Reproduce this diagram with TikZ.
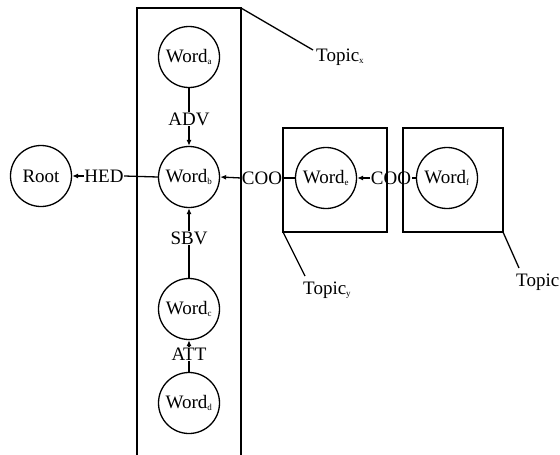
\documentclass[tikz,border=0pt]{standalone}
\usepackage{fontspec}
\setmainfont{Liberation Serif}
\usetikzlibrary{arrows.meta}
\tikzset{
  word/.style={draw, circle, line width=1.3pt, minimum size=61pt, inner sep=0pt, font=\fontsize{19}{22}\selectfont},
  rel/.style={inner sep=0.5pt, font=\fontsize{19}{22}\selectfont},
  topiclabel/.style={anchor=west, inner sep=0pt, font=\fontsize{19}{22}\selectfont},
  conn/.style={line width=1.3pt},
  arr/.style={line width=1.3pt, -{Latex[length=6pt,width=5pt]}},
  frame/.style={line width=1.3pt}
}
\newcommand{\sbs}[1]{\textsubscript{\fontsize{9}{10}\selectfont #1}}
\begin{document}
\begin{tikzpicture}[x=1pt,y=-1pt]
\useasboundingbox (0,0) rectangle (560,455);
\clip (0,0) rectangle (560,455);

% topic frames
\draw[frame] (137,460) -- (137,8) -- (241,8) -- (241,460);
\draw[frame] (283,128) rectangle (387,232);
\draw[frame] (403,128) rectangle (503,232);

% word nodes
\node[word] (root) at (41,176) {Root};
\node[word] (wa) at (189,57) {Word\sbs{a}};
\node[word] (wb) at (189,177) {Word\sbs{b}};
\node[word] (wc) at (189,309) {Word\sbs{c}};
\node[word] (wd) at (189,403) {Word\sbs{d}};
\node[word] (we) at (326,178) {Word\sbs{e}};
\node[word] (wf) at (447,178) {Word\sbs{f}};

% relation labels
\node[rel] (hed) at (104,176) {HED};
\node[rel] (adv) at (189,119) {ADV};
\node[rel] (sbv) at (189,238) {SBV};
\node[rel] (att) at (189,354) {ATT};
\node[rel] (coo1) at (262,178) {COO};
\node[rel] (coo2) at (391,178) {COO};

% dependency arcs
\draw[conn] (wb.west) -- (hed.east);
\draw[arr] (hed.west) -- (root.east);
\draw[conn] (wa.south) -- (adv.north);
\draw[arr] (adv.south) -- (wb.north);
\draw[conn] (wc.north) -- (sbv.south);
\draw[arr] (sbv.north) -- (wb.south);
\draw[conn] (wd.north) -- (att.south);
\draw[arr] (att.north) -- (wc.south);
\draw[conn] (we.west) -- (coo1.east);
\draw[arr] (coo1.west) -- (wb.east);
\draw[conn] (wf.west) -- (coo2.east);
\draw[arr] (coo2.west) -- (we.east);

% topic labels with leader lines
\coordinate (tx) at (241,8);
\coordinate (ty) at (283,232);
\coordinate (tz) at (503,232);
\node[topiclabel] (topx) at (316,57) {Topic\sbs{x}};
\node[topiclabel] (topy) at (303,290) {Topic\sbs{y}};
\node[topiclabel] (topz) at (516,282) {Topic};
\draw[conn] (tx) -- (313,50);
\draw[conn] (ty) -- (305,276);
\draw[conn] (tz) -- (519,268);
\end{tikzpicture}
\end{document}
